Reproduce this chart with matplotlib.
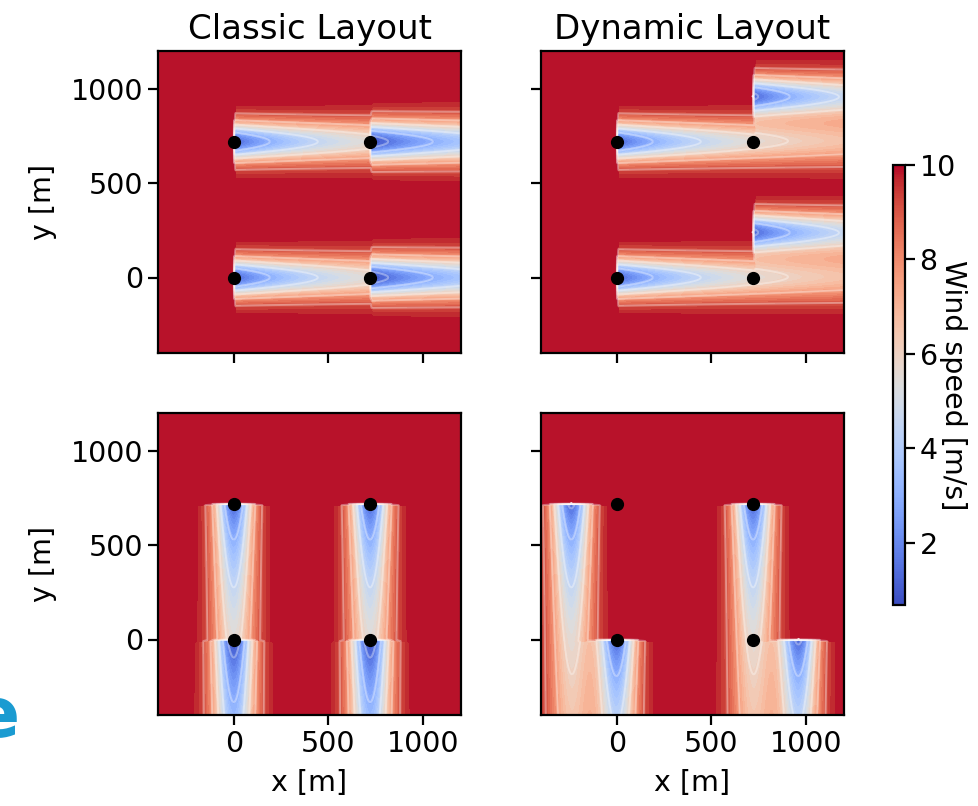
import numpy as np
import matplotlib
matplotlib.use('Agg')
import matplotlib.pyplot as plt
from matplotlib import cm
from matplotlib.colors import Normalize

# Turbine anchor positions (black dots, same in every panel)
turbine_x = [0, 720, 0, 720]
turbine_y = [0, 0, 720, 720]

# Rotor positions that cast the wakes in each panel
classic_x = [0, 720, 0, 720]
classic_y = [0, 0, 720, 720]
dynamic_west_x = [0, 720, 0, 720]
dynamic_west_y = [0, 240, 720, 960]
dynamic_north_x = [0, 960, -240, 720]
dynamic_north_y = [0, 0, 720, 720]

col_titles = ['Classic Layout', 'Dynamic Layout']
wind_from = ['west', 'north']
tick_vals = [0, 500, 1000]
cbar_ticks = [2, 4, 6, 8, 10]

free_speed = 10.0
speed_min = 0.68

# simple gaussian wake parameters
c0 = 0.88
recovery_len = 740.0
sigma0 = 72.0
spread = 0.012
front_curve = 0.0003

plt.rcParams['font.family'] = ['DejaVu Sans']
plt.rcParams['font.size'] = 20.5
plt.rcParams['axes.linewidth'] = 1.6
plt.rcParams['xtick.major.size'] = 7
plt.rcParams['ytick.major.size'] = 7
plt.rcParams['xtick.major.width'] = 1.6
plt.rcParams['ytick.major.width'] = 1.6

gx = np.linspace(-400, 1200, 401)
gy = np.linspace(-400, 1200, 401)
X, Y = np.meshgrid(gx, gy)


def local_coords(xx, yy, x0, y0, direction):
    # downstream distance s and cross-stream offset r
    if direction == 'west':
        return xx - x0, yy - y0
    return y0 - yy, xx - x0


def wake_deficit(s, r, u_in):
    s_pos = np.clip(s, 0, None)
    sigma = sigma0 + spread * s_pos
    amp = c0 / (1 + s_pos / recovery_len)
    d = u_in * amp * np.exp(-r ** 2 / (2 * sigma ** 2))
    return np.where(s >= front_curve * r ** 2, d, 0.0)


def get_field(px, py, direction):
    order = sorted(range(len(px)),
                   key=lambda i: local_coords(px[i], py[i], 0, 0, direction)[0])
    inflow = {}
    total = np.zeros_like(X)
    for i in order:
        u_in = free_speed
        for j in inflow:
            s, r = local_coords(px[i], py[i], px[j], py[j], direction)
            u_in -= float(wake_deficit(np.array(s), np.array(r), inflow[j]))
        inflow[i] = u_in
        s, r = local_coords(X, Y, px[i], py[i], direction)
        total += wake_deficit(s, r, u_in)
    return np.clip(free_speed - total, speed_min, free_speed)


layouts = [
    [(classic_x, classic_y), (dynamic_west_x, dynamic_west_y)],
    [(classic_x, classic_y), (dynamic_north_x, dynamic_north_y)],
]

fig = plt.figure(figsize=(9.79, 8.06), dpi=100)

lefts = [158 / 979, 541 / 979]
bottoms = [1 - 353 / 806, 1 - 715 / 806]
w = 303 / 979
h = 302 / 806

levels = np.linspace(speed_min, free_speed, 40)

for row in range(2):
    for col in range(2):
        ax = fig.add_axes([lefts[col], bottoms[row], w, h])
        px, py = layouts[row][col]
        U = get_field(px, py, wind_from[row])
        ax.contourf(X, Y, U, levels=levels, cmap='coolwarm',
                    vmin=speed_min, vmax=free_speed, extend='both')
        ax.contour(X, Y, U, colors='w', linewidths=1.4, alpha=0.35)
        ax.plot(turbine_x, turbine_y, 'o', color='k', markersize=8.5)
        ax.set_xlim(-400, 1200)
        ax.set_ylim(-400, 1200)
        ax.set_xticks(tick_vals)
        ax.set_yticks(tick_vals)
        if row == 0:
            ax.set_title(col_titles[col], fontsize=24.5, pad=9)
            ax.set_xticklabels([])
        else:
            ax.set_xlabel('x [m]', labelpad=8)
        if col == 0:
            ax.set_ylabel('y [m]', labelpad=10)
        else:
            ax.set_yticklabels([])

cax = fig.add_axes([893 / 979, 1 - 605 / 806, 12 / 979, 440 / 806])
sm = cm.ScalarMappable(norm=Normalize(speed_min, free_speed), cmap='coolwarm')
cb = fig.colorbar(sm, cax=cax, ticks=cbar_ticks)
cb.set_label('Wind speed [m/s]', rotation=270, labelpad=8)

fig.text(20 / 979, 1 - 737 / 806, 'e', color='#1b9bd1', fontsize=50,
         fontweight='bold', ha='right', va='baseline')

fig.savefig('out.png', dpi=100)
